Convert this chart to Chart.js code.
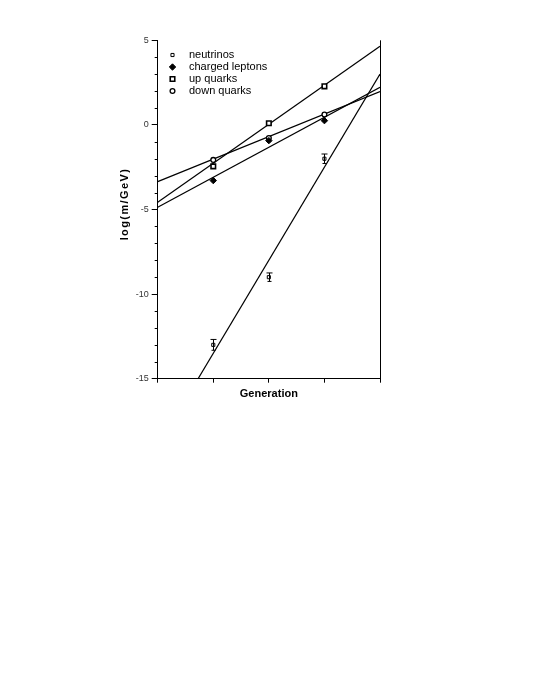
<!DOCTYPE html>
<html>
<head>
<meta charset="utf-8">
<script src="https://cdn.jsdelivr.net/npm/chart.js@4/dist/chart.umd.min.js"></script>
<style>
    body { margin: 0; background: #fff; }
    #massChart { display: block; }
</style>
</head>
<body>
<canvas id="massChart" width="535" height="692"></canvas>
<script>
const generations = [1, 2, 3];
const neutrinos = [-13.0, -9.0, -2.0];
const neutrinoErr = [0.32, 0.25, 0.28];
const chargedLeptons = [-3.29, -0.93, 0.25];
const upQuarks = [-2.45, 0.10, 2.28];
const downQuarks = [-2.07, -0.77, 0.61];

// straight-line fits, read at the two ends of the axis
const fitEnds = [0, 4];
const neutrinoFit = [-19.0, 3.0];
const leptonFit = [-4.87, 2.22];
const upFit = [-4.57, 4.65];
const downFit = [-3.35, 1.97];

const yTicksMajor = [-15, -10, -5, 0, 5];

function toPoints(xs, ys) {
    return xs.map((x, i) => ({ x: x, y: ys[i] }));
}

function markerSet(label, values, style, radius, fill, border) {
    return {
        label: label,
        data: toPoints(generations, values),
        showLine: false,
        pointStyle: style,
        pointRadius: radius,
        pointBackgroundColor: fill,
        pointBorderColor: '#000',
        pointBorderWidth: border,
        order: 0
    };
}

function fitLine(values) {
    return {
        label: '',
        isFit: true,
        data: toPoints(fitEnds, values),
        showLine: true,
        borderColor: '#000',
        borderWidth: 1.2,
        pointRadius: 0,
        order: 1
    };
}

const errorBars = {
    id: 'errorBars',
    afterDatasetsDraw(chart) {
        const ctx = chart.ctx;
        const x = chart.scales.x, y = chart.scales.y;
        ctx.save();
        ctx.strokeStyle = '#000';
        ctx.lineWidth = 1;
        generations.forEach((g, i) => {
            const px = Math.round(x.getPixelForValue(g)) + 0.5;
            const top = y.getPixelForValue(neutrinos[i] + neutrinoErr[i]);
            const bot = y.getPixelForValue(neutrinos[i] - neutrinoErr[i]);
            ctx.beginPath();
            ctx.moveTo(px, top); ctx.lineTo(px, bot);
            ctx.moveTo(px - 3, top); ctx.lineTo(px + 3, top);
            ctx.moveTo(px - 2, bot); ctx.lineTo(px + 2, bot);
            ctx.stroke();
        });
        ctx.restore();
    }
};

const frame = {
    id: 'frame',
    afterDraw(chart) {
        const ctx = chart.ctx;
        const area = chart.chartArea;
        const y = chart.scales.y;
        ctx.save();
        ctx.strokeStyle = '#000';
        ctx.lineWidth = 1;
        // right border
        ctx.beginPath();
        ctx.moveTo(Math.round(area.right) + 0.5, area.top);
        ctx.lineTo(Math.round(area.right) + 0.5, area.bottom);
        ctx.stroke();
        // minor ticks on the y axis
        ctx.beginPath();
        y.ticks.forEach(t => {
            if (t.value % 5 === 0) return;
            const py = Math.round(y.getPixelForValue(t.value)) + 0.5;
            ctx.moveTo(area.left - 3, py);
            ctx.lineTo(area.left, py);
        });
        ctx.stroke();

        // y axis title, letter spaced
        ctx.translate(125, 204);
        ctx.rotate(-Math.PI / 2);
        ctx.font = 'bold 11px "Liberation Sans", Arial, sans-serif';
        if ('letterSpacing' in ctx) ctx.letterSpacing = '1.4px';
        ctx.fillStyle = '#000';
        ctx.textAlign = 'center';
        ctx.textBaseline = 'middle';
        ctx.fillText('log(m/GeV)', 0, 0);
        ctx.restore();

        // legend
        ctx.save();
        ctx.font = '11px "Liberation Sans", Arial, sans-serif';
        ctx.textBaseline = 'middle';
        ctx.textAlign = 'left';
        let row = 0;
        chart.data.datasets.forEach(ds => {
            if (ds.isFit) return;
            const ly = 55 + row * 12;
            ctx.fillStyle = ds.pointBackgroundColor;
            ctx.strokeStyle = '#000';
            ctx.lineWidth = ds.pointBorderWidth;
            Chart.helpers.drawPoint(ctx, {
                pointStyle: ds.pointStyle,
                radius: ds.pointRadius,
                borderWidth: ds.pointBorderWidth,
                rotation: 0
            }, 172.5, ly);
            ctx.fillStyle = '#000';
            ctx.fillText(ds.label, 189, ly);
            row++;
        });
        ctx.restore();
    }
};

new Chart(document.getElementById('massChart'), {
    type: 'scatter',
    data: {
        datasets: [
            markerSet('neutrinos', neutrinos, 'rect', 2.2, '#fff', 1),
            markerSet('charged leptons', chargedLeptons, 'rectRot', 3.2, '#000', 1),
            markerSet('up quarks', upQuarks, 'rect', 3.2, '#fff', 1.6),
            markerSet('down quarks', downQuarks, 'circle', 2.4, '#fff', 1.3),
            fitLine(neutrinoFit),
            fitLine(leptonFit),
            fitLine(upFit),
            fitLine(downFit)
        ]
    },
    options: {
        responsive: false,
        animation: false,
        layout: {
            padding: { left: 0, top: 40.3, right: 155, bottom: 287 }
        },
        plugins: {
            legend: { display: false },
            tooltip: { enabled: false }
        },
        scales: {
            x: {
                type: 'linear',
                min: 0,
                max: 4,
                afterFit: function(scale) { scale.height = 26.3; },
                ticks: {
                    stepSize: 1,
                    callback: function() { return ''; }
                },
                grid: {
                    drawOnChartArea: false,
                    drawTicks: true,
                    tickLength: 4,
                    tickColor: '#000'
                },
                border: { color: '#000', width: 1 },
                title: {
                    display: true,
                    text: 'Generation',
                    color: '#000',
                    font: { family: '"Liberation Sans", Arial, sans-serif', size: 11, weight: 'bold' }
                }
            },
            y: {
                min: -15,
                max: 5,
                afterFit: function(scale) { scale.width = 157.7; },
                ticks: {
                    stepSize: 1,
                    padding: 3,
                    color: '#333',
                    font: { family: '"Liberation Sans", Arial, sans-serif', size: 9 },
                    callback: function(value) {
                        return yTicksMajor.includes(value) ? String(value) : '';
                    }
                },
                grid: {
                    drawOnChartArea: false,
                    drawTicks: true,
                    tickLength: 6,
                    tickColor: function(c) {
                        return c.tick && c.tick.value % 5 === 0 ? '#000' : 'rgba(0,0,0,0)';
                    }
                },
                border: { color: '#000', width: 1 }
            }
        }
    },
    plugins: [errorBars, frame]
});
</script>
</body>
</html>
